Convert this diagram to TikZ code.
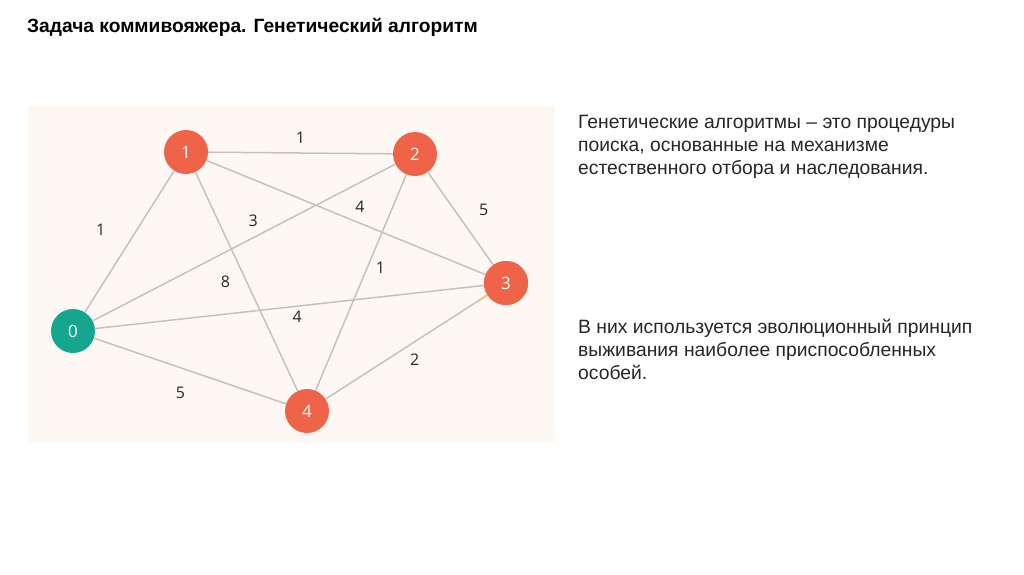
\documentclass[tikz,border=0pt]{standalone}
\usepackage{fontspec}
\setmainfont{Liberation Sans}
\newfontfamily\lblfont{Open Sans}
\usetikzlibrary{positioning, calc}

\definecolor{cityorange}{HTML}{EF6448}
\definecolor{cityteal}{HTML}{14A68E}
\definecolor{roadgray}{HTML}{C4C1BF}
\definecolor{panelbg}{HTML}{FEF8F5}
\definecolor{hlyellow}{HTML}{F2C45A}

\begin{document}
\begin{tikzpicture}[
			x=1pt, y=-1pt,
			city/.style={circle, minimum size=44pt, inner sep=0pt, fill=cityorange,
				text=white, font=\lblfont\fontsize{17}{17}\selectfont},
			start/.style={city, fill=cityteal},
			road/.style={draw=roadgray, line width=1.5pt},
			w/.style={font=\lblfont\fontsize{16}{16}\selectfont, text=black!85, inner sep=0pt},
			txt/.style={anchor=north west, align=left, inner sep=0pt,
				font=\fontsize{19.3}{23}\selectfont, text=black!85}
			]
			\useasboundingbox[fill=white] (0,0) rectangle (1024,574);
			\fill[panelbg] (28,106) rectangle (555,443);

			\node[anchor=base west, inner sep=0pt, font=\bfseries\fontsize{19.2}{20}\selectfont] (title) at (27,32) {Задача коммивояжера. Генетический алгоритм};

			\node[start] (c0) at (73,331) {0};
			\node[city] (c1) at (186,152) {1};
			\node[city] (c2) at (415,154) {2};
			\node[city] (c3) at (506,283) {3};
			\node[city] (c4) at (307,411) {4};

			\path[road]
			(c1) edge node[w, pos=.5, yshift=15pt] {1} (c2)
			(c0) edge node[w, pos=.58, xshift=-36pt] {1} (c1)
			(c0) edge node[w, pos=.53, yshift=17pt] {3} (c2)
			(c1) edge node[w, pos=.55, yshift=16pt] {4} (c3)
			(c2) edge node[w, pos=.41, xshift=29pt] {5} (c3)
			(c1) edge node[w, pos=.5, xshift=-21pt] {8} (c4)
			(c2) edge node[w, pos=.43, xshift=13pt] {1} (c4)
			(c0) edge node[w, pos=.52, yshift=-11pt] {4} (c3)
			(c3) edge node[w, pos=.45, yshift=-18pt] {2} (c4)
			(c0) edge node[w, pos=.45, yshift=-25pt] {5} (c4);
			% short highlight where 3--4 leaves node 3
			\draw[hlyellow, line width=1.5pt] (c3) -- ($(c3.center)!30pt!(c4.center)$);
			\node[city] at (c3) {3};

			\node[txt] (para1) at (578,115) {Генетические алгоритмы – это процедуры\\поиска, основанные на механизме\\естественного отбора и наследования.};
			\node[txt] (para2) at (578,319) {В них используется эволюционный принцип\\выживания наиболее приспособленных\\особей.};
\end{tikzpicture}
\end{document}
